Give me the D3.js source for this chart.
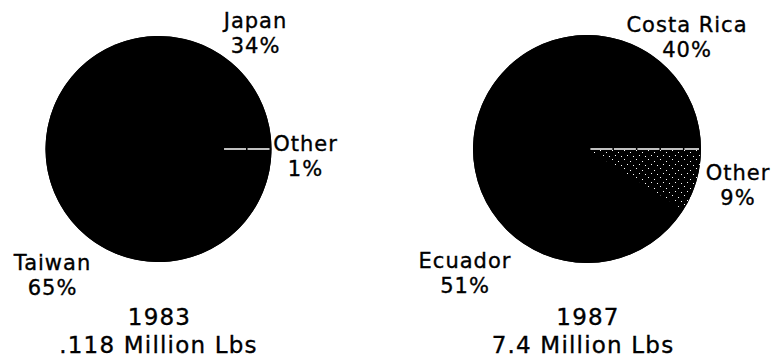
<!DOCTYPE html>
<html>
<head>
<meta charset="utf-8">
<script src="https://cdn.jsdelivr.net/npm/d3@7"></script>
<style>
  html, body { margin: 0; padding: 0; background: #fff; }
  svg { display: block; }
  text { font-family: "DejaVu Sans", sans-serif; fill: #000; stroke: #000; stroke-width: 0.35px; }
</style>
</head>
<body>
<svg id="chart" width="776" height="360"></svg>
<script>
// ---- data ----
const categories1983 = ["Other", "Taiwan", "Japan"];
const values1983 = [1, 65, 34];
const year1983 = "1983";
const total1983 = ".118 Million Lbs";

const categories1987 = ["Other", "Ecuador", "Costa Rica"];
const values1987 = [9, 51, 40];
const year1987 = "1987";
const total1987 = "7.4 Million Lbs";

// ---- layout ----
const svg = d3.select("#chart");

const defs = svg.append("defs");
const pat = defs.append("pattern")
  .attr("id", "stipple").attr("patternUnits", "userSpaceOnUse")
  .attr("width", 12).attr("height", 9);
pat.append("rect").attr("width", 12).attr("height", 9).attr("fill", "#000");
[[1,1],[7,3],[4,6],[10,7]].forEach(p => {
  pat.append("rect").attr("x", p[0]).attr("y", p[1]).attr("width", 1).attr("height", 1).attr("fill", "#fff");
});

const pies = [
  { cats: categories1983, vals: values1983, year: year1983, total: total1983,
    cx: 158.5, cy: 149, r: 113, edgeStart: 0.58,
    labelOffsets: { "Japan": [97, -121], "Other": [147, 2], "Taiwan": [-106, 121] },
    titleDx: 0 },
  { cats: categories1987, vals: values1987, year: year1987, total: total1987,
    cx: 587, cy: 149, r: 114, edgeStart: 0.03,
    labelOffsets: { "Costa Rica": [100, -117], "Other": [151, 31], "Ecuador": [-122, 119] },
    titleDx: -4 }
];

const pieGen = d3.pie().sort(null).value(d => d.v)
  .startAngle(Math.PI / 2).endAngle(Math.PI / 2 + 2 * Math.PI);

pies.forEach(p => {
  const data = p.cats.map((c, i) => ({ c, v: p.vals[i] }));
  const arcs = pieGen(data);
  const arc = d3.arc().innerRadius(0).outerRadius(p.r);
  const g = svg.append("g").attr("transform", `translate(${p.cx},${p.cy})`);

  // solid disc underneath so slice seams do not show
  g.append("path")
    .attr("d", arc({ startAngle: 0, endAngle: 2 * Math.PI }))
    .attr("fill", "#000");

  g.selectAll("path.slice").data(arcs).enter().append("path")
    .attr("class", "slice")
    .attr("d", arc)
    .attr("fill", d => (d.data.c === "Other" && d.data.v > 2) ? "url(#stipple)" : "#000");

  // white edge at the start of the "Other" slice
  arcs.filter(d => d.data.c === "Other").forEach(d => {
    const a = d.startAngle;
    g.append("line")
      .attr("x1", Math.sin(a) * p.r * p.edgeStart).attr("y1", -Math.cos(a) * p.r * p.edgeStart)
      .attr("x2", Math.sin(a) * (p.r - 2)).attr("y2", -Math.cos(a) * (p.r - 2))
      .attr("stroke", "#fff").attr("stroke-width", 1.3)
      .attr("stroke-dasharray", "22 1.5");
  });

  // labels
  arcs.forEach(d => {
    const off = p.labelOffsets[d.data.c];
    const t = g.append("text")
      .attr("text-anchor", "middle")
      .attr("font-size", 21)
      .attr("letter-spacing", 1)
      .attr("x", off[0]).attr("y", off[1]);
    t.append("tspan").attr("x", off[0]).text(d.data.c);
    t.append("tspan").attr("x", off[0]).attr("dy", 25).text(d.data.v + "%");
  });

  // titles
  const tt = svg.append("text")
    .attr("text-anchor", "middle")
    .attr("font-size", 23)
    .attr("letter-spacing", 1.2)
    .attr("y", 325);
  tt.append("tspan").attr("x", p.cx + 1).text(p.year);
  tt.append("tspan").attr("x", p.cx + p.titleDx).attr("dy", 28).text(p.total);
});
</script>
</body>
</html>
